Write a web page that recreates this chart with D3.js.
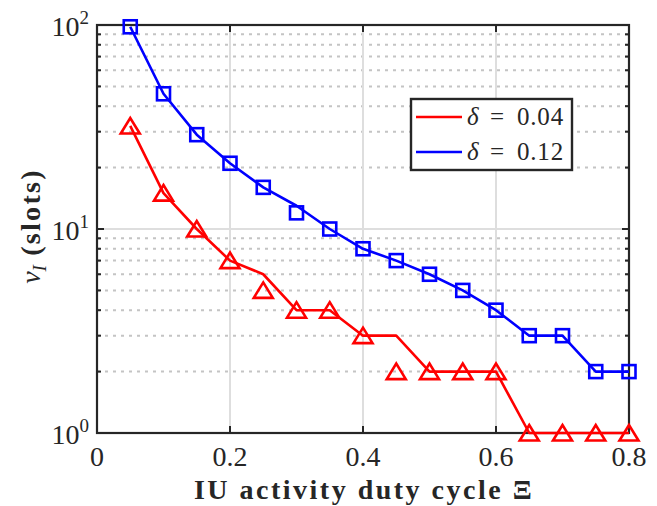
<!DOCTYPE html>
<html lang="en">
<head>
<meta charset="UTF-8">
<title>nu_I vs duty cycle</title>
<style>
  body { margin: 0; padding: 0; background: #fff; }
  svg { display: block; }
  text { font-family: "Liberation Serif", "DejaVu Serif", serif; fill: #262626; }
</style>
</head>
<body>
<svg id="chart"></svg>
<script src="https://d3js.org/d3.v7.min.js"></script>
<script>
// data
const duty = [0.05, 0.1, 0.15, 0.2, 0.25, 0.3, 0.35, 0.4, 0.45, 0.5, 0.55, 0.6, 0.65, 0.7, 0.75, 0.8];
// the plotted line and the markers differ at a few points
const redLine  = [32, 15, 10, 7, 6, 4, 4, 3, 3, 2, 2, 2, 1, 1, 1, 1];
const redMarks = [32, 15, 10, 7, 5, 4, 4, 3, 2, 2, 2, 2, 1, 1, 1, 1];
const blueLine  = [98, 46, 29, 21, 16, 13, 10, 8, 7, 6, 5, 4, 3, 3, 2, 2];
const blueMarks = [98, 46, 29, 21, 16, 12, 10, 8, 7, 6, 5, 4, 3, 3, 2, 2];
const xTicks = [0, 0.2, 0.4, 0.6, 0.8];
const xTickLabels = ["0", "0.2", "0.4", "0.6", "0.8"];
const yTicks = [1, 10, 100];
const yTickExp = ["0", "1", "2"];
const legendLabels = ["0.04", "0.12"];

const W = 657, H = 506;
const pLeft = 97, pRight = 629, pTop = 25, pBottom = 433;
const ink = "#262626";

const svg = d3.select("#chart").attr("width", W).attr("height", H);

const x = d3.scaleLinear().domain([0, 0.8]).range([pLeft, pRight]);
const y = d3.scaleLog().domain([1, 100]).range([pBottom, pTop]);

const minorVals = [];
[1, 10].forEach(d => { for (let k = 2; k <= 9; k++) minorVals.push(d * k); });

// minor grid (dotted)
svg.append("g").selectAll("line").data(minorVals).enter().append("line")
  .attr("x1", pLeft).attr("x2", pRight)
  .attr("y1", d => y(d)).attr("y2", d => y(d))
  .attr("stroke", "#c4c4c4").attr("stroke-width", 2)
  .attr("stroke-dasharray", "3,5");

// major grid
const grid = svg.append("g").attr("stroke", "#dedede").attr("stroke-width", 2);
grid.selectAll("line.gx").data(xTicks.slice(1, -1)).enter().append("line")
  .attr("x1", d => x(d)).attr("x2", d => x(d)).attr("y1", pTop).attr("y2", pBottom);
grid.selectAll("line.gy").data([10]).enter().append("line")
  .attr("x1", pLeft).attr("x2", pRight).attr("y1", d => y(d)).attr("y2", d => y(d));

// ticks (inside, all four sides)
const ticks = svg.append("g").attr("stroke", ink).attr("stroke-width", 2);
xTicks.forEach(t => {
  ticks.append("line").attr("x1", x(t)).attr("x2", x(t)).attr("y1", pBottom).attr("y2", pBottom - 7);
  ticks.append("line").attr("x1", x(t)).attr("x2", x(t)).attr("y1", pTop).attr("y2", pTop + 7);
});
yTicks.forEach(t => {
  ticks.append("line").attr("x1", pLeft).attr("x2", pLeft + 7).attr("y1", y(t)).attr("y2", y(t));
  ticks.append("line").attr("x1", pRight).attr("x2", pRight - 7).attr("y1", y(t)).attr("y2", y(t));
});
minorVals.forEach(t => {
  ticks.append("line").attr("x1", pLeft).attr("x2", pLeft + 4).attr("y1", y(t)).attr("y2", y(t));
  ticks.append("line").attr("x1", pRight).attr("x2", pRight - 4).attr("y1", y(t)).attr("y2", y(t));
});

// frame
svg.append("rect")
  .attr("x", pLeft).attr("y", pTop)
  .attr("width", pRight - pLeft).attr("height", pBottom - pTop)
  .attr("fill", "none").attr("stroke", ink).attr("stroke-width", 2.2);

// tick labels
svg.append("g").selectAll("text").data(xTicks).enter().append("text")
  .attr("x", d => x(d)).attr("y", 466)
  .attr("text-anchor", "middle").attr("font-size", 28)
  .text((d, i) => xTickLabels[i]);

const yl = svg.append("g").selectAll("text").data(yTicks).enter().append("text")
  .attr("x", 89).attr("y", d => y(d) + 11)
  .attr("text-anchor", "end").attr("font-size", 28);
yl.append("tspan").text("10");
yl.append("tspan").attr("dy", -12).attr("font-size", 19).text((d, i) => yTickExp[i]);

// axis labels
svg.append("text")
  .attr("x", 364).attr("y", 499)
  .attr("text-anchor", "middle").attr("font-size", 28).attr("font-weight", "bold")
  .attr("letter-spacing", 2.5)
  .text("IU activity duty cycle \u039E");

const ylab = svg.append("text")
  .attr("transform", "translate(40," + 226 + ") rotate(-90)")
  .attr("text-anchor", "middle").attr("font-size", 28);
ylab.append("tspan").attr("font-style", "italic").text("\u03BD");
ylab.append("tspan").attr("font-style", "italic").attr("font-size", 19).attr("dy", 6).text("I");
ylab.append("tspan").attr("font-weight", "bold").attr("letter-spacing", 2.3).attr("dy", -6).text(" (slots)");

// series
const line = d3.line().x(d => x(d[0])).y(d => y(d[1]));
const series = [
  { color: "#ff0000", line: redLine, marks: redMarks, shape: "tri" },
  { color: "#0000ff", line: blueLine, marks: blueMarks, shape: "sq" }
];

series.forEach(s => {
  svg.append("path")
    .datum(duty.map((d, i) => [d, s.line[i]]))
    .attr("d", line)
    .attr("fill", "none").attr("stroke", s.color).attr("stroke-width", 2.6)
    .attr("stroke-linejoin", "round");

  const pts = duty.map((d, i) => [d, s.marks[i]]);
  if (s.shape === "sq") {
    svg.append("g").selectAll("rect").data(pts).enter().append("rect")
      .attr("x", d => x(d[0]) - 6.5).attr("y", d => y(d[1]) - 6.5)
      .attr("width", 13).attr("height", 13)
      .attr("fill", "none").attr("stroke", s.color).attr("stroke-width", 2.6);
  } else {
    svg.append("g").selectAll("path").data(pts).enter().append("path")
      .attr("d", d => {
        const cx = x(d[0]), cy = y(d[1]);
        return "M" + (cx - 9.5) + "," + (cy + 7.5) + "L" + (cx + 9.5) + "," + (cy + 7.5) +
               "L" + cx + "," + (cy - 8) + "Z";
      })
      .attr("fill", "none").attr("stroke", s.color).attr("stroke-width", 2.6)
      .attr("stroke-linejoin", "miter");
  }
});

// legend
const lg = svg.append("g");
lg.append("rect")
  .attr("x", 411).attr("y", 99).attr("width", 161).attr("height", 71)
  .attr("fill", "#fff").attr("stroke", ink).attr("stroke-width", 2.4);
series.forEach((s, i) => {
  const ly = 117 + i * 35;
  lg.append("line").attr("x1", 416).attr("x2", 462).attr("y1", ly).attr("y2", ly)
    .attr("stroke", s.color).attr("stroke-width", 2.6);
  const t = lg.append("text").attr("y", ly + 8).attr("font-size", 25);
  t.append("tspan").attr("x", 467).attr("font-style", "italic").text("\u03B4");
  t.append("tspan").attr("x", 490).text("=");
  t.append("tspan").attr("x", 517).attr("letter-spacing", 0.8).text(legendLabels[i]);
});
</script>
</body>
</html>
